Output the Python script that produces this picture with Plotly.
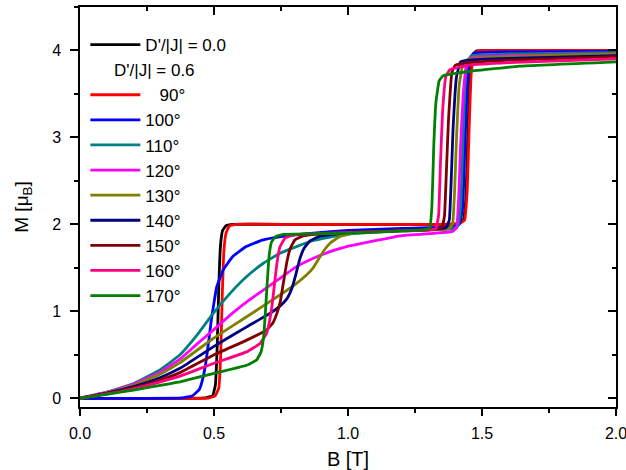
import plotly.graph_objects as go

# ---- data (B in T, M in mu_B) ----
names = ["D'/|J| = 0.0", "   90°", "100°", "110°", "120°", "130°", "140°", "150°", "160°", "170°"]
group_title = "     D'/|J| = 0.6"
colors = ["#000000", "#FF0000", "#0000FF", "#008080", "#FF00FF", "#808000", "#000080", "#800000", "#FF0080", "#008000"]

B_d00 = [0, 0.2, 0.4, 0.47, 0.495, 0.505, 0.512, 0.518, 0.524, 0.532, 0.545, 0.57, 0.8, 1.1, 1.35, 1.41, 1.43, 1.44, 1.447, 1.455, 1.465, 1.48, 1.6, 2.0]
M_d00 = [0, 0, 0, 0.005, 0.03, 0.15, 0.6, 1.3, 1.75, 1.93, 1.985, 2.0, 2.0, 2.0, 2.0, 2.01, 2.05, 2.3, 3.0, 3.7, 3.95, 3.995, 4.0, 4.0]

B_090 = [0, 0.2, 0.4, 0.48, 0.505, 0.518, 0.525, 0.531, 0.537, 0.545, 0.557, 0.58, 0.8, 1.1, 1.35, 1.415, 1.435, 1.445, 1.452, 1.46, 1.47, 1.485, 1.6, 2.0]
M_090 = [0, 0, 0, 0.003, 0.03, 0.12, 0.5, 1.2, 1.7, 1.9, 1.98, 2.0, 2.0, 2.0, 2.0, 2.01, 2.05, 2.4, 3.1, 3.75, 3.95, 3.995, 4.0, 4.0]

B_100 = [0, 0.2, 0.38, 0.42, 0.445, 0.46, 0.47, 0.48, 0.49, 0.5, 0.51, 0.535, 0.57, 0.62, 0.68, 0.75, 0.87, 1.0, 1.2, 1.38, 1.415, 1.428, 1.436, 1.445, 1.455, 1.47, 1.6, 2.0]
M_100 = [0, 0, 0.005, 0.03, 0.1, 0.25, 0.42, 0.65, 0.9, 1.1, 1.28, 1.48, 1.63, 1.745, 1.82, 1.86, 1.9, 1.93, 1.955, 1.97, 2.0, 2.2, 2.9, 3.6, 3.9, 3.97, 3.985, 3.99]

B_110 = [0, 0.1, 0.2, 0.3, 0.373, 0.435, 0.497, 0.56, 0.622, 0.684, 0.746, 0.808, 0.871, 0.933, 0.995, 1.1, 1.2, 1.3, 1.39, 1.41, 1.42, 1.427, 1.435, 1.445, 1.46, 1.6, 2.0]
M_110 = [0, 0.07, 0.17, 0.33, 0.5, 0.72, 0.976, 1.207, 1.40, 1.553, 1.668, 1.745, 1.815, 1.855, 1.885, 1.91, 1.925, 1.935, 1.95, 1.98, 2.2, 2.8, 3.5, 3.85, 3.94, 3.96, 3.975]

B_120 = [0, 0.1, 0.2, 0.3, 0.373, 0.435, 0.497, 0.56, 0.622, 0.684, 0.746, 0.808, 0.871, 0.933, 0.995, 1.057, 1.194, 1.33, 1.39, 1.405, 1.413, 1.42, 1.43, 1.443, 1.46, 1.6, 2.0]
M_120 = [0, 0.07, 0.165, 0.3, 0.45, 0.62, 0.784, 0.957, 1.11, 1.245, 1.38, 1.514, 1.61, 1.687, 1.745, 1.784, 1.868, 1.9, 1.92, 1.96, 2.3, 2.9, 3.5, 3.85, 3.92, 3.94, 3.96]

B_130 = [0, 0.1, 0.2, 0.3, 0.373, 0.497, 0.622, 0.746, 0.808, 0.846, 0.87, 0.89, 0.91, 0.933, 0.97, 1.02, 1.1, 1.2, 1.3, 1.375, 1.39, 1.398, 1.405, 1.415, 1.43, 1.45, 1.6, 2.0]
M_130 = [0, 0.065, 0.15, 0.28, 0.41, 0.688, 0.938, 1.188, 1.322, 1.42, 1.5, 1.6, 1.7, 1.784, 1.86, 1.9, 1.915, 1.925, 1.935, 1.95, 2.0, 2.4, 3.0, 3.6, 3.86, 3.9, 3.93, 3.96]

B_140 = [0, 0.1, 0.2, 0.3, 0.373, 0.497, 0.622, 0.709, 0.746, 0.771, 0.79, 0.805, 0.82, 0.835, 0.858, 0.895, 0.995, 1.1, 1.2, 1.3, 1.365, 1.378, 1.385, 1.392, 1.405, 1.42, 1.45, 1.6, 2.0]
M_140 = [0, 0.06, 0.135, 0.24, 0.345, 0.592, 0.822, 0.976, 1.06, 1.14, 1.26, 1.42, 1.6, 1.72, 1.81, 1.865, 1.905, 1.92, 1.93, 1.94, 1.96, 2.05, 2.5, 3.1, 3.7, 3.87, 3.89, 3.91, 3.94]

B_150 = [0, 0.1, 0.2, 0.3, 0.373, 0.497, 0.622, 0.696, 0.72, 0.735, 0.748, 0.76, 0.772, 0.784, 0.802, 0.833, 0.933, 1.1, 1.2, 1.3, 1.35, 1.36, 1.367, 1.375, 1.388, 1.4, 1.45, 1.6, 2.0]
M_150 = [0, 0.055, 0.12, 0.21, 0.295, 0.495, 0.669, 0.784, 0.87, 0.98, 1.12, 1.35, 1.57, 1.72, 1.822, 1.868, 1.9, 1.92, 1.93, 1.94, 1.96, 2.1, 2.6, 3.2, 3.75, 3.83, 3.86, 3.89, 3.93]

B_160 = [0, 0.1, 0.2, 0.3, 0.373, 0.497, 0.622, 0.672, 0.696, 0.708, 0.718, 0.727, 0.736, 0.746, 0.765, 0.796, 0.933, 1.1, 1.2, 1.3, 1.328, 1.338, 1.345, 1.353, 1.365, 1.38, 1.45, 1.6, 2.0]
M_160 = [0, 0.05, 0.11, 0.19, 0.255, 0.4, 0.534, 0.63, 0.745, 0.9, 1.1, 1.35, 1.58, 1.74, 1.842, 1.88, 1.9, 1.915, 1.925, 1.935, 1.95, 2.1, 2.7, 3.3, 3.7, 3.78, 3.83, 3.86, 3.905]

B_170 = [0, 0.1, 0.2, 0.3, 0.373, 0.497, 0.622, 0.659, 0.675, 0.685, 0.692, 0.699, 0.706, 0.715, 0.73, 0.76, 0.871, 1.0, 1.1, 1.2, 1.29, 1.305, 1.313, 1.32, 1.328, 1.34, 1.355, 1.455, 1.64, 2.0]
M_170 = [0, 0.045, 0.095, 0.15, 0.19, 0.284, 0.38, 0.44, 0.53, 0.7, 1.0, 1.35, 1.65, 1.8, 1.86, 1.885, 1.891, 1.9, 1.91, 1.925, 1.94, 1.96, 2.2, 2.9, 3.4, 3.65, 3.71, 3.76, 3.82, 3.87]

x_ticks = [0.0, 0.5, 1.0, 1.5, 2.0]
x_ticklabels = ["0.0", "0.5", "1.0", "1.5", "2.0"]
y_ticks = [0, 1, 2, 3, 4]
y_ticklabels = ["0", "1", "2", "3", "4"]

series_B = [B_d00, B_090, B_100, B_110, B_120, B_130, B_140, B_150, B_160, B_170]
series_M = [M_d00, M_090, M_100, M_110, M_120, M_130, M_140, M_150, M_160, M_170]

FONT = "Arial, Liberation Sans, sans-serif"
LEG = 17

fig = go.Figure()
for i, (nm, col, bx, my) in enumerate(zip(names, colors, series_B, series_M)):
    if i >= 1:
        kw = dict(legendgroup="d06", legendgrouptitle=dict(text=group_title, font=dict(size=LEG, family=FONT, color="black")))
    else:
        kw = dict(legendgroup="d00")
    fig.add_trace(go.Scatter(x=bx, y=my, mode="lines", name=nm,
                             line=dict(color=col, width=2.8, shape="spline", smoothing=0.3), **kw))

axis_common = dict(showline=True, linecolor="black", linewidth=1.5, showgrid=False, zeroline=False,
                   tickcolor="black", tickwidth=1.5, automargin=False, ticklabeloverflow="allow",
                   tickfont=dict(size=16, family=FONT, color="black"))

fig.update_layout(
    width=626, height=470,
    margin=dict(l=80, r=10, t=7, b=63),
    plot_bgcolor="white", paper_bgcolor="white",
    font=dict(family=FONT, color="black"),
    showlegend=True,
    legend=dict(x=0.01, y=0.95, xanchor="left", yanchor="top", bgcolor="rgba(0,0,0,0)",
                font=dict(size=LEG, family=FONT, color="black"), tracegroupgap=0,
                itemwidth=50, groupclick="toggleitem"),
    xaxis=dict(range=[0, 2], tickvals=x_ticks, ticktext=x_ticklabels, ticks="outside", ticklen=7,
               ticklabelstandoff=4,
               minor=dict(dtick=0.25, tick0=0, ticks="outside", ticklen=4, tickcolor="black", tickwidth=1.5),
               mirror=True, title=dict(text="B [T]", font=dict(size=20, family=FONT), standoff=14),
               **axis_common),
    yaxis=dict(range=[-0.1, 4.5], tickvals=y_ticks, ticktext=y_ticklabels, ticks="outside", ticklen=8,
               ticklabelstandoff=6,
               minor=dict(dtick=0.5, tick0=0, ticks="outside", ticklen=4, tickcolor="black", tickwidth=1.5),
               mirror=True, title=dict(text="M [μ<sub>B</sub>]", font=dict(size=19, family=FONT), standoff=18),
               **axis_common),
    xaxis2=dict(overlaying="x", side="top", range=[0, 2], tickvals=x_ticks, ticks="inside", ticklen=8,
                showticklabels=False, showline=False, showgrid=False, zeroline=False, automargin=False,
                tickcolor="black", tickwidth=1.5,
                minor=dict(dtick=0.25, tick0=0, ticks="inside", ticklen=4, tickcolor="black", tickwidth=1.5)),
    yaxis2=dict(overlaying="y", side="right", range=[-0.1, 4.5], tickvals=y_ticks, ticks="inside", ticklen=8,
                showticklabels=False, showline=False, showgrid=False, zeroline=False, automargin=False,
                tickcolor="black", tickwidth=1.5,
                minor=dict(dtick=0.5, tick0=0, ticks="inside", ticklen=4, tickcolor="black", tickwidth=1.5)),
)
# invisible helper trace so the mirrored inward-tick axes are drawn
fig.add_trace(go.Scatter(x=[None], y=[None], xaxis="x2", yaxis="y2", showlegend=False, hoverinfo="skip"))

fig.write_html("out.html")
